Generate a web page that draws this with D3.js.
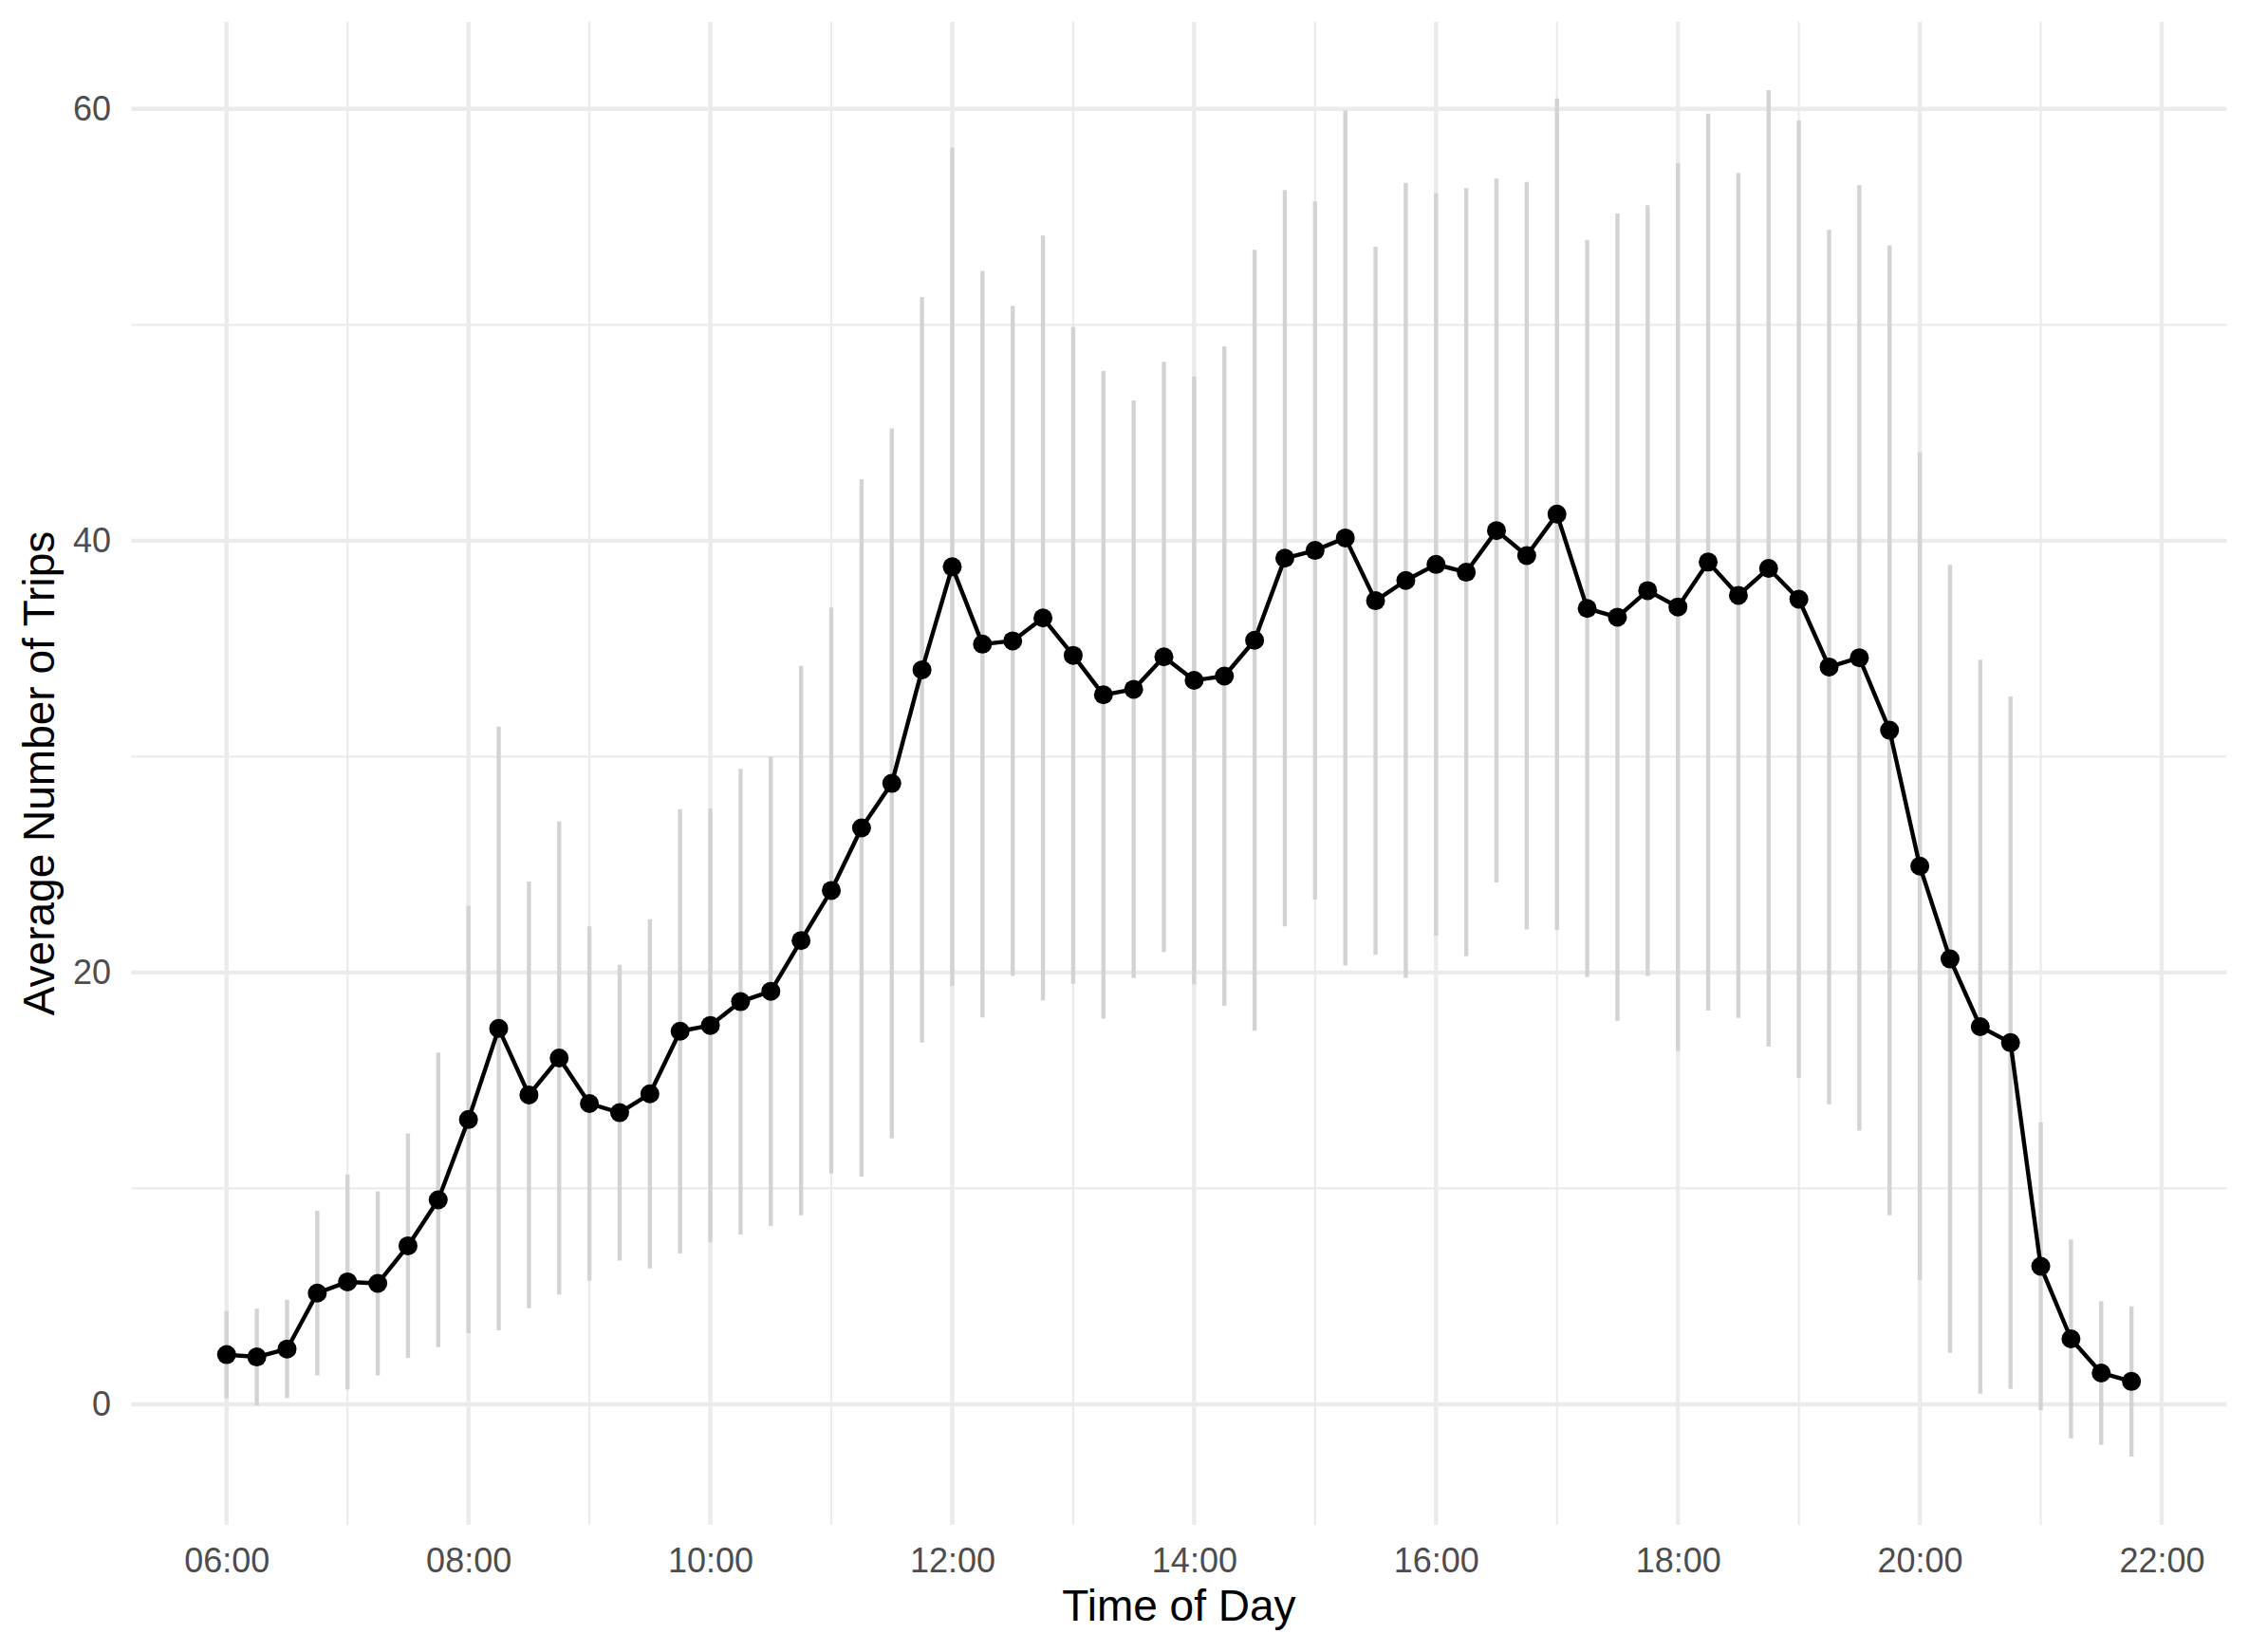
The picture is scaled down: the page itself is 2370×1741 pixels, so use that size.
<!DOCTYPE html>
<html>
<head>
<meta charset="utf-8">
<script src="https://cdn.jsdelivr.net/npm/d3@7"></script>
<style>
  html, body { margin: 0; padding: 0; background: #ffffff; }
  svg { display: block; font-family: "Liberation Sans", Arial, Helvetica, sans-serif; }
</style>
</head>
<body>
<div id="chart"></div>
<script>
// quarter-hour slots
const timeLabels = [
    "06:00", "06:15", "06:30", "06:45", "07:00", "07:15", "07:30", "07:45",
    "08:00", "08:15", "08:30", "08:45", "09:00", "09:15", "09:30", "09:45",
    "10:00", "10:15", "10:30", "10:45", "11:00", "11:15", "11:30", "11:45",
    "12:00", "12:15", "12:30", "12:45", "13:00", "13:15", "13:30", "13:45",
    "14:00", "14:15", "14:30", "14:45", "15:00", "15:15", "15:30", "15:45",
    "16:00", "16:15", "16:30", "16:45", "17:00", "17:15", "17:30", "17:45",
    "18:00", "18:15", "18:30", "18:45", "19:00", "19:15", "19:30", "19:45",
    "20:00", "20:15", "20:30", "20:45", "21:00", "21:15", "21:30", "21:45"
];

// average trips per slot
const meanTrips = [
    2.30, 2.19, 2.56, 5.15, 5.67, 5.60, 7.34, 9.47,
    13.19, 17.41, 14.33, 16.04, 13.93, 13.51, 14.38, 17.28,
    17.55, 18.65, 19.13, 21.48, 23.80, 26.70, 28.76, 34.02,
    38.79, 35.21, 35.36, 36.42, 34.69, 32.86, 33.12, 34.62,
    33.53, 33.73, 35.39, 39.19, 39.55, 40.13, 37.22, 38.16,
    38.90, 38.54, 40.47, 39.31, 41.23, 36.86, 36.46, 37.69,
    36.93, 39.01, 37.47, 38.72, 37.29, 34.15, 34.58, 31.22,
    24.93, 20.63, 17.49, 16.75, 6.39, 3.03, 1.45, 1.06
];

// standard deviation per slot (bars are mean +/- sd)
const sdTrips = [
    2.02, 2.24, 2.28, 3.81, 4.98, 4.26, 5.20, 6.82,
    9.90, 13.98, 9.88, 10.95, 8.21, 6.85, 8.09, 10.29,
    10.05, 10.78, 10.87, 12.72, 13.11, 16.15, 16.44, 17.27,
    19.42, 17.29, 15.52, 17.71, 15.21, 15.00, 13.38, 13.67,
    14.08, 15.27, 18.09, 17.05, 16.17, 19.80, 16.40, 18.41,
    17.20, 17.79, 16.30, 17.31, 19.26, 17.07, 18.70, 17.85,
    20.56, 20.77, 19.57, 22.15, 22.17, 20.25, 21.90, 22.46,
    19.17, 18.25, 17.00, 16.04, 6.67, 4.60, 3.33, 3.48
];

const xTickLabels = ["06:00", "08:00", "10:00", "12:00", "14:00", "16:00", "18:00", "20:00", "22:00"];
const xMinorLabels = ["07:00", "09:00", "11:00", "13:00", "15:00", "17:00", "19:00", "21:00"];
const yTicks = [0, 20, 40, 60];
const yMinor = [10, 30, 50];

const width = 2370;
const height = 1741;
const panel = { left: 138.4, right: 2346.5, top: 23, bottom: 1607 };

const parseTime = d3.timeParse("%H:%M");
const fmtTime = d3.timeFormat("%H:%M");

const data = timeLabels.map((t, i) => ({
    time: parseTime(t),
    mean: meanTrips[i],
    low: meanTrips[i] - sdTrips[i],
    high: meanTrips[i] + sdTrips[i]
}));

// same 5% padding ggplot uses
function expand(ext, mult) {
    const pad = (ext[1] - ext[0]) * mult;
    return [ext[0] - pad, ext[1] + pad];
}

const tExt = d3.extent(data, d => +d.time);
const xDom = expand(tExt, 0.05).map(v => new Date(v));
const yDom = expand([d3.min(data, d => d.low), d3.max(data, d => d.high)], 0.05);

const x = d3.scaleTime().domain(xDom).range([panel.left, panel.right]);
const y = d3.scaleLinear().domain(yDom).range([panel.bottom, panel.top]);

const svg = d3.select("#chart").append("svg")
    .attr("width", width)
    .attr("height", height);

const grid = svg.append("g").attr("class", "grid");

// minor grid first
grid.selectAll("line.ymin")
    .data(yMinor)
    .join("line")
    .attr("class", "ymin")
    .attr("x1", panel.left).attr("x2", panel.right)
    .attr("y1", d => y(d)).attr("y2", d => y(d))
    .attr("stroke", "#EBEBEB").attr("stroke-width", 2.2);

grid.selectAll("line.xmin")
    .data(xMinorLabels.map(parseTime))
    .join("line")
    .attr("class", "xmin")
    .attr("x1", d => x(d)).attr("x2", d => x(d))
    .attr("y1", panel.top).attr("y2", panel.bottom)
    .attr("stroke", "#EBEBEB").attr("stroke-width", 2.2);

grid.selectAll("line.ymaj")
    .data(yTicks)
    .join("line")
    .attr("class", "ymaj")
    .attr("x1", panel.left).attr("x2", panel.right)
    .attr("y1", d => y(d)).attr("y2", d => y(d))
    .attr("stroke", "#EBEBEB").attr("stroke-width", 4.4);

grid.selectAll("line.xmaj")
    .data(xTickLabels.map(parseTime))
    .join("line")
    .attr("class", "xmaj")
    .attr("x1", d => x(d)).attr("x2", d => x(d))
    .attr("y1", panel.top).attr("y2", panel.bottom)
    .attr("stroke", "#EBEBEB").attr("stroke-width", 4.4);

// error bars
svg.append("g")
    .selectAll("line")
    .data(data)
    .join("line")
    .attr("x1", d => x(d.time)).attr("x2", d => x(d.time))
    .attr("y1", d => y(d.low)).attr("y2", d => y(d.high))
    .attr("stroke", "#D3D3D3")
    .attr("stroke-width", 4.4);

const line = d3.line()
    .x(d => x(d.time))
    .y(d => y(d.mean));

svg.append("path")
    .datum(data)
    .attr("d", line)
    .attr("fill", "none")
    .attr("stroke", "#000000")
    .attr("stroke-width", 4.4)
    .attr("stroke-linejoin", "round");

svg.append("g")
    .selectAll("circle")
    .data(data)
    .join("circle")
    .attr("cx", d => x(d.time))
    .attr("cy", d => y(d.mean))
    .attr("r", 10)
    .attr("fill", "#000000");

// axes (no lines, just labels)
const xAxis = svg.append("g")
    .attr("transform", `translate(0,${panel.bottom})`)
    .call(d3.axisBottom(x)
        .tickValues(xTickLabels.map(parseTime))
        .tickFormat(fmtTime)
        .tickSize(0)
        .tickPadding(24.5));

const yAxis = svg.append("g")
    .attr("transform", `translate(${panel.left},0)`)
    .call(d3.axisLeft(y)
        .tickValues(yTicks)
        .tickFormat(d3.format("d"))
        .tickSize(0)
        .tickPadding(21.4));

[xAxis, yAxis].forEach(ax => {
    ax.select(".domain").remove();
    ax.selectAll("text")
        .attr("fill", "#4D4D4D")
        .style("font-size", "36px")
        .style("font-family", "\"Liberation Sans\", Arial, Helvetica, sans-serif");
});

svg.append("text")
    .attr("x", (panel.left + panel.right) / 2)
    .attr("y", 1708)
    .attr("text-anchor", "middle")
    .attr("fill", "#000000")
    .style("font-size", "46px")
    .text("Time of Day");

svg.append("text")
    .attr("transform", `translate(57,${(panel.top + panel.bottom) / 2}) rotate(-90)`)
    .attr("text-anchor", "middle")
    .attr("fill", "#000000")
    .style("font-size", "46px")
    .text("Average Number of Trips");
</script>
</body>
</html>
